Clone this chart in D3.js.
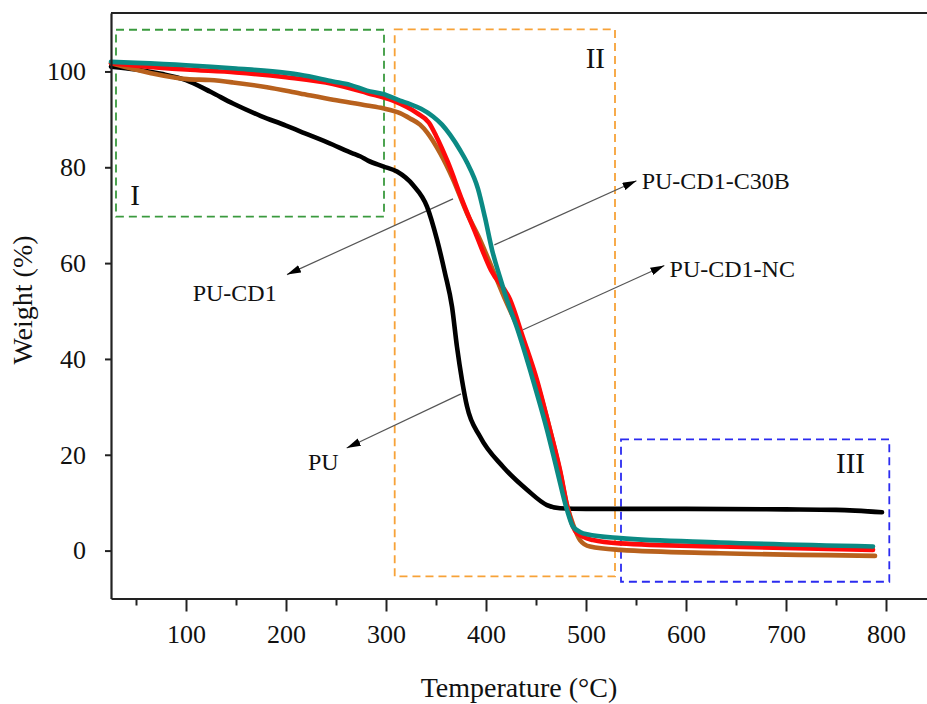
<!DOCTYPE html>
<html>
<head>
<meta charset="utf-8">
<script src="https://cdn.jsdelivr.net/npm/d3@7/dist/d3.min.js"></script>
<style>
  html, body { margin: 0; padding: 0; background: #fff; }
  svg { display: block; font-family: "Liberation Serif", "Times New Roman", serif; }
</style>
</head>
<body>
<svg id="chart" width="927" height="704"></svg>
<script>
// TGA curves: temperature (°C) vs residual weight (%)
const tempPU = [25, 50, 75, 100, 125, 147, 175, 200, 214, 247, 262, 268, 274, 282, 297, 311, 327, 341, 351, 359, 366, 371, 376, 381, 394, 417, 441, 461, 474, 500, 600, 700, 750, 796];
const weightPU = [101, 100.4, 99.5, 98.2, 95.7, 93.3, 90.7, 88.7, 87.5, 84.7, 83.3, 82.8, 82.3, 81.4, 80.2, 79.1, 76.3, 71.8, 64.9, 57.9, 50.9, 42.5, 35.6, 30.1, 23.8, 17.5, 12.7, 9.5, 8.85, 8.7, 8.7, 8.6, 8.5, 8.0];

const tempCD1 = [25, 64, 101, 124, 147, 181, 214, 247, 281, 297, 314, 324, 334, 341, 354, 367, 381, 394, 407, 420, 435, 450, 464, 474, 481, 487, 494, 504, 534, 634, 789];
const weightCD1 = [101.7, 99.7, 98.4, 98.2, 97.7, 96.7, 95.4, 94.1, 92.9, 92.3, 91.3, 90.2, 88.9, 87.3, 83.0, 77.5, 70.4, 64.9, 58.5, 52.0, 45.0, 35.8, 25.2, 16.5, 9.5, 5.5, 2.2, 0.84, 0.15, -0.55, -1.1];

const tempNC = [25, 50, 100, 150, 200, 247, 281, 307, 331, 343, 350, 362, 376, 390, 405, 424, 437, 451, 464, 474, 482, 487, 491, 507, 534, 634, 787];
const weightNC = [101.7, 101.2, 100.4, 99.8, 98.8, 97.4, 95.5, 93.9, 91.3, 89.3, 86.6, 81.0, 73.2, 66.0, 58.5, 52.4, 44.5, 35.6, 25.2, 16.8, 8.5, 5.0, 3.6, 2.2, 1.5, 0.84, 0.15];

const tempC30B = [25, 50, 100, 150, 200, 214, 247, 264, 281, 297, 314, 324, 335, 347, 356, 364, 374, 381, 392, 399, 406, 414, 421, 431, 447, 461, 471, 481, 487, 494, 501, 534, 634, 787];
const weightC30B = [102, 101.8, 101.3, 100.6, 99.7, 99.3, 97.9, 97.2, 96.0, 95.3, 93.9, 93.2, 92.2, 90.6, 88.9, 86.8, 83.6, 81.0, 75.5, 69.5, 62.8, 57.0, 52.3, 46.5, 35.6, 25.2, 16.8, 8.5, 5.0, 3.9, 3.4, 2.6, 1.7, 0.85];

const seriesNames = ["PU", "PU-CD1", "PU-CD1-NC", "PU-CD1-C30B"];
const seriesColors = ["#000000", "#b8611d", "#ff0a0a", "#0b8a84"];

// axis ticks
const xTickValues = [100, 200, 300, 400, 500, 600, 700, 800];
const xMinorTicks = [50, 150, 250, 350, 450, 550, 650, 750];
const yTickValues = [0, 20, 40, 60, 80, 100];

// annotation labels: [text, textT, textW, arrowFromT, arrowFromW, arrowToT, arrowToW]
const arrowLabels = [
  ["PU-CD1", 106.7, 52.1, 367, 73.4, 201, 57.6],
  ["PU-CD1-C30B", 555.7, 75.4, 408.4, 63.8, 550.5, 77.2],
  ["PU-CD1-NC", 583.6, 57.2, 437, 46.1, 578.4, 59.5],
  ["PU", 222, 16.8, 375, 32.7, 260.7, 21.4]
];

// stage regions: [label, T0, T1, W0, W1, color, labelT, labelW, anchor]
const stageBoxes = [
  ["I", 30, 298, 69.7, 108.7, "#3a9a3e", 49, 72.2, "middle"],
  ["II", 308.7, 529, -5.4, 108.8, "#f7a238", 519, 100.8, "end"],
  ["III", 535, 803.3, -6.5, 23.2, "#2b2bf0", 779, 16.2, "end"]
];

const svg = d3.select("#chart");
const plotLeft = 111, plotTop = 13, plotRight = 927, plotBottom = 598.5;
const serif = "'Liberation Serif', 'Times New Roman', serif";

const x = d3.scaleLinear().domain([25, 841]).range([plotLeft, plotRight]);
const y = d3.scaleLinear().domain([-10, 112.2]).range([plotBottom, plotTop]);

// stage boxes (drawn beneath curves)
const boxG = svg.append("g");
stageBoxes.forEach(b => {
  boxG.append("rect")
    .attr("x", x(b[1])).attr("y", y(b[4]))
    .attr("width", x(b[2]) - x(b[1])).attr("height", y(b[3]) - y(b[4]))
    .attr("fill", "none").attr("stroke", b[5]).attr("stroke-width", 1.8)
    .attr("stroke-dasharray", "8,5");
  boxG.append("text")
    .attr("x", x(b[6])).attr("y", y(b[7]))
    .attr("text-anchor", b[8])
    .attr("font-family", serif)
    .attr("font-size", 29).attr("fill", "#111")
    .text(b[0]);
});

// arrows
const defs = svg.append("defs");
defs.append("marker")
  .attr("id", "arrowHead")
  .attr("viewBox", "0 0 14 8").attr("refX", 14).attr("refY", 4)
  .attr("markerUnits", "userSpaceOnUse")
  .attr("markerWidth", 14).attr("markerHeight", 8)
  .attr("orient", "auto")
  .append("path").attr("d", "M0,0 L14,4 L0,8 Z").attr("fill", "#000");

const annG = svg.append("g");
arrowLabels.forEach(a => {
  annG.append("line")
    .attr("x1", x(a[3])).attr("y1", y(a[4]))
    .attr("x2", x(a[5])).attr("y2", y(a[6]))
    .attr("stroke", "#555").attr("stroke-width", 1.2)
    .attr("marker-end", "url(#arrowHead)");
  annG.append("text")
    .attr("x", x(a[1])).attr("y", y(a[2]))
    .attr("font-family", serif)
    .attr("font-size", 24).attr("fill", "#111")
    .text(a[0]);
});

// curves
const seriesData = [
  [tempPU, weightPU],
  [tempCD1, weightCD1],
  [tempNC, weightNC],
  [tempC30B, weightC30B]
];
const line = d3.line()
  .x(d => x(d[0])).y(d => y(d[1]))
  .curve(d3.curveMonotoneX);

seriesData.forEach((s, i) => {
  const pts = s[0].map((t, k) => [t, s[1][k]]);
  svg.append("path")
    .datum(pts)
    .attr("class", "series")
    .attr("data-name", seriesNames[i])
    .attr("d", line)
    .attr("fill", "none")
    .attr("stroke", seriesColors[i])
    .attr("stroke-width", 4.6)
    .attr("stroke-linecap", "round")
    .attr("stroke-linejoin", "round");
});

// axes
const xAxis = svg.append("g")
  .attr("transform", `translate(0,${plotBottom})`)
  .call(d3.axisBottom(x).tickValues(xTickValues).tickFormat(d3.format("d"))
    .tickSize(13).tickPadding(13.5).tickSizeOuter(0))
  .attr("font-family", serif).attr("font-size", 26);
xAxis.select(".domain").attr("stroke", "#222").attr("stroke-width", 2.2);
xAxis.selectAll(".tick line").attr("stroke", "#222").attr("stroke-width", 2);
xAxis.selectAll(".tick text").attr("fill", "#111");

const xMinor = svg.append("g")
  .attr("transform", `translate(0,${plotBottom})`)
  .call(d3.axisBottom(x).tickValues(xMinorTicks).tickFormat("").tickSize(7).tickSizeOuter(0));
xMinor.select(".domain").remove();
xMinor.selectAll(".tick line").attr("stroke", "#222").attr("stroke-width", 2);

const yAxis = svg.append("g")
  .attr("transform", `translate(${plotLeft},0)`)
  .call(d3.axisLeft(y).tickValues(yTickValues).tickFormat(d3.format("d"))
    .tickSize(6).tickPadding(19).tickSizeOuter(0))
  .attr("font-family", serif).attr("font-size", 26);
yAxis.select(".domain").attr("stroke", "#222").attr("stroke-width", 2.2);
yAxis.selectAll(".tick line").attr("stroke", "#222").attr("stroke-width", 2);
yAxis.selectAll(".tick text").attr("fill", "#111");

// top frame line
svg.append("line")
  .attr("x1", plotLeft).attr("x2", plotRight)
  .attr("y1", plotTop).attr("y2", plotTop)
  .attr("stroke", "#222").attr("stroke-width", 2.2);

// axis titles
svg.append("text")
  .attr("x", (plotLeft + plotRight) / 2).attr("y", 697)
  .attr("text-anchor", "middle")
  .attr("font-family", serif).attr("font-size", 28).attr("fill", "#111")
  .text("Temperature (°C)");

svg.append("text")
  .attr("transform", "translate(32,300) rotate(-90)")
  .attr("text-anchor", "middle")
  .attr("font-family", serif).attr("font-size", 28).attr("fill", "#111")
  .text("Weight (%)");
</script>
</body>
</html>
